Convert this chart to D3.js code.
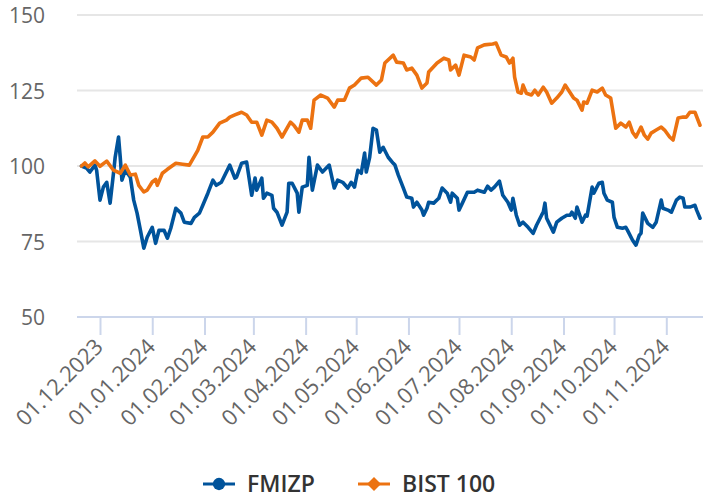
<!DOCTYPE html>
<html>
<head>
<meta charset="utf-8">
<script src="https://cdn.jsdelivr.net/npm/d3@7"></script>
<style>
  body { margin: 0; background: #fff; }
  svg { display: block; font-family: "Open Sans", sans-serif; }
</style>
</head>
<body>
<div id="chart"></div>
<script>
//size
const width = 703;
const height = 499;

//series names
const seriesNames = ["FMIZP", "BIST 100"];

//y axis ticks
const yTicks = [50, 75, 100, 125, 150];

//x axis tick dates (first of each month)
const xTickDates = [
  "2023-12-01", "2024-01-01", "2024-02-01", "2024-03-01", "2024-04-01", "2024-05-01",
  "2024-06-01", "2024-07-01", "2024-08-01", "2024-09-01", "2024-10-01", "2024-11-01",
];

//FMIZP, indexed to 100
const fmizp = [
  ["2023-11-20", 100], ["2023-11-23", 99.3], ["2023-11-25", 98.0], ["2023-11-28", 100.3],
  ["2023-11-29", 98.6], ["2023-12-01", 88.7], ["2023-12-03", 93.0], ["2023-12-05", 94.6],
  ["2023-12-07", 87.7], ["2023-12-09", 97.6], ["2023-12-10", 102.9], ["2023-12-12", 109.6],
  ["2023-12-13", 102.9], ["2023-12-14", 95.3], ["2023-12-16", 98.6], ["2023-12-19", 96.3],
  ["2023-12-21", 88.7], ["2023-12-23", 84.4], ["2023-12-25", 78.7], ["2023-12-27", 72.8],
  ["2023-12-29", 76.4], ["2024-01-01", 79.7], ["2024-01-03", 74.4], ["2024-01-05", 78.7],
  ["2024-01-08", 78.7], ["2024-01-10", 76.1], ["2024-01-12", 79.4], ["2024-01-15", 86.0],
  ["2024-01-18", 84.4], ["2024-01-20", 81.4], ["2024-01-24", 81.0], ["2024-01-26", 83.0],
  ["2024-01-29", 84.4], ["2024-01-31", 87.0], ["2024-02-03", 91.0], ["2024-02-06", 95.3],
  ["2024-02-08", 93.6], ["2024-02-11", 94.6], ["2024-02-16", 100.3], ["2024-02-19", 96.0],
  ["2024-02-20", 96.3], ["2024-02-23", 100.9], ["2024-02-26", 101.3], ["2024-02-29", 90.3],
  ["2024-03-02", 96.0], ["2024-03-03", 92.0], ["2024-03-06", 96.0], ["2024-03-07", 89.3],
  ["2024-03-09", 91.0], ["2024-03-12", 90.3], ["2024-03-13", 86.0], ["2024-03-15", 84.7],
  ["2024-03-18", 80.4], ["2024-03-21", 84.7], ["2024-03-22", 94.3], ["2024-03-24", 94.3],
  ["2024-03-27", 91.0], ["2024-03-28", 84.7], ["2024-03-30", 93.0], ["2024-04-02", 93.6],
  ["2024-04-03", 102.9], ["2024-04-05", 92.0], ["2024-04-08", 100.3], ["2024-04-11", 98.0],
  ["2024-04-15", 100.3], ["2024-04-18", 92.7], ["2024-04-20", 95.3], ["2024-04-23", 94.6],
  ["2024-04-26", 92.7], ["2024-04-28", 94.6], ["2024-04-30", 93.0], ["2024-05-02", 98.6],
  ["2024-05-04", 97.6], ["2024-05-06", 104.3], ["2024-05-07", 98.0], ["2024-05-09", 102.9],
  ["2024-05-11", 112.5], ["2024-05-13", 111.9], ["2024-05-15", 104.6], ["2024-05-17", 106.2],
  ["2024-05-20", 102.9], ["2024-05-23", 100.9], ["2024-05-24", 100.3], ["2024-05-26", 97.0],
  ["2024-05-29", 92.7], ["2024-05-31", 89.7], ["2024-06-03", 89.3], ["2024-06-04", 86.4],
  ["2024-06-06", 88.0], ["2024-06-09", 85.4], ["2024-06-10", 83.7], ["2024-06-12", 86.0],
  ["2024-06-13", 88.0], ["2024-06-16", 87.7], ["2024-06-19", 89.3], ["2024-06-21", 92.7],
  ["2024-06-24", 91.0], ["2024-06-26", 88.0], ["2024-06-27", 91.0], ["2024-06-30", 89.3],
  ["2024-07-01", 85.4], ["2024-07-03", 87.7], ["2024-07-06", 91.3], ["2024-07-10", 91.3],
  ["2024-07-12", 92.0], ["2024-07-16", 91.3], ["2024-07-18", 93.3], ["2024-07-20", 92.0],
  ["2024-07-22", 93.0], ["2024-07-25", 95.0], ["2024-07-27", 90.3], ["2024-07-30", 88.0],
  ["2024-08-01", 85.4], ["2024-08-02", 89.3], ["2024-08-04", 83.7], ["2024-08-06", 80.4],
  ["2024-08-08", 81.4], ["2024-08-11", 79.7], ["2024-08-14", 77.7], ["2024-08-16", 80.4],
  ["2024-08-19", 83.7], ["2024-08-20", 84.7], ["2024-08-21", 87.7], ["2024-08-22", 82.7],
  ["2024-08-26", 78.1], ["2024-08-28", 81.4], ["2024-08-31", 82.7], ["2024-09-03", 83.7],
  ["2024-09-05", 83.7], ["2024-09-06", 84.7], ["2024-09-08", 82.7], ["2024-09-09", 86.4],
  ["2024-09-12", 81.4], ["2024-09-14", 83.7], ["2024-09-15", 83.4], ["2024-09-18", 93.0],
  ["2024-09-19", 91.0], ["2024-09-22", 94.3], ["2024-09-24", 94.6], ["2024-09-25", 91.0],
  ["2024-09-27", 88.7], ["2024-09-30", 88.0], ["2024-10-01", 83.0], ["2024-10-03", 79.7],
  ["2024-10-06", 79.4], ["2024-10-08", 79.7], ["2024-10-09", 78.7], ["2024-10-12", 75.4],
  ["2024-10-14", 73.8], ["2024-10-16", 77.1], ["2024-10-17", 77.7], ["2024-10-18", 84.4],
  ["2024-10-21", 81.0], ["2024-10-24", 79.7], ["2024-10-26", 81.4], ["2024-10-29", 88.7],
  ["2024-10-30", 86.0], ["2024-11-02", 85.4], ["2024-11-04", 84.7], ["2024-11-07", 88.7],
  ["2024-11-09", 89.7], ["2024-11-11", 89.3], ["2024-11-12", 86.4], ["2024-11-15", 86.4],
  ["2024-11-18", 87.0], ["2024-11-19", 85.4], ["2024-11-21", 82.7],
];

//BIST 100, indexed to 100
const bist100 = [
  ["2023-11-20", 100], ["2023-11-22", 101.0], ["2023-11-24", 99.7], ["2023-11-28", 101.7],
  ["2023-12-01", 99.9], ["2023-12-05", 101.6], ["2023-12-09", 98.6], ["2023-12-13", 97.6],
  ["2023-12-16", 100.3], ["2023-12-19", 97.0], ["2023-12-22", 97.3], ["2023-12-24", 93.6],
  ["2023-12-27", 91.4], ["2023-12-29", 92.0], ["2024-01-01", 94.7], ["2024-01-03", 95.6],
  ["2024-01-04", 93.6], ["2024-01-07", 97.6], ["2024-01-10", 98.9], ["2024-01-15", 100.9],
  ["2024-01-19", 100.6], ["2024-01-23", 100.3], ["2024-01-28", 105.2], ["2024-01-31", 109.6],
  ["2024-02-03", 109.6], ["2024-02-06", 111.2], ["2024-02-10", 114.2], ["2024-02-14", 115.2],
  ["2024-02-16", 116.2], ["2024-02-19", 116.9], ["2024-02-23", 117.8], ["2024-02-26", 116.9],
  ["2024-02-29", 114.5], ["2024-03-03", 114.5], ["2024-03-06", 110.2], ["2024-03-09", 115.2],
  ["2024-03-12", 114.5], ["2024-03-15", 112.5], ["2024-03-18", 109.6], ["2024-03-23", 114.5],
  ["2024-03-25", 113.5], ["2024-03-28", 111.2], ["2024-03-30", 115.2], ["2024-04-02", 115.2],
  ["2024-04-04", 112.5], ["2024-04-06", 121.8], ["2024-04-10", 123.5], ["2024-04-14", 122.5],
  ["2024-04-18", 119.5], ["2024-04-20", 121.8], ["2024-04-24", 121.8], ["2024-04-27", 125.8],
  ["2024-04-30", 126.8], ["2024-05-04", 129.1], ["2024-05-08", 129.4], ["2024-05-13", 126.8],
  ["2024-05-16", 128.5], ["2024-05-18", 134.1], ["2024-05-23", 136.7], ["2024-05-25", 134.4],
  ["2024-05-29", 134.1], ["2024-05-31", 131.8], ["2024-06-03", 132.4], ["2024-06-06", 130.1],
  ["2024-06-09", 125.8], ["2024-06-12", 127.5], ["2024-06-13", 131.1], ["2024-06-18", 134.1],
  ["2024-06-22", 135.7], ["2024-06-25", 135.1], ["2024-06-26", 131.8], ["2024-06-29", 133.4],
  ["2024-07-01", 130.1], ["2024-07-04", 136.7], ["2024-07-08", 136.1], ["2024-07-10", 135.1],
  ["2024-07-12", 139.1], ["2024-07-16", 140.1], ["2024-07-21", 140.4], ["2024-07-23", 140.7],
  ["2024-07-26", 136.7], ["2024-07-29", 136.1], ["2024-07-31", 134.1], ["2024-08-02", 135.7],
  ["2024-08-03", 129.4], ["2024-08-05", 124.5], ["2024-08-07", 124.1], ["2024-08-08", 126.8],
  ["2024-08-10", 124.1], ["2024-08-13", 123.5], ["2024-08-15", 125.1], ["2024-08-17", 123.5],
  ["2024-08-20", 126.1], ["2024-08-22", 124.5], ["2024-08-25", 120.8], ["2024-08-28", 122.5],
  ["2024-08-31", 124.5], ["2024-09-02", 126.8], ["2024-09-04", 125.1], ["2024-09-07", 122.5],
  ["2024-09-09", 121.8], ["2024-09-12", 118.5], ["2024-09-13", 121.2], ["2024-09-15", 120.8],
  ["2024-09-18", 125.1], ["2024-09-21", 124.5], ["2024-09-24", 125.8], ["2024-09-26", 123.5],
  ["2024-09-29", 122.5], ["2024-10-02", 112.5], ["2024-10-05", 114.2], ["2024-10-08", 112.9],
  ["2024-10-10", 114.5], ["2024-10-12", 111.2], ["2024-10-14", 109.6], ["2024-10-17", 112.9],
  ["2024-10-19", 110.2], ["2024-10-21", 108.9], ["2024-10-23", 110.9], ["2024-10-26", 111.9],
  ["2024-10-29", 112.9], ["2024-10-31", 111.9], ["2024-11-03", 109.6], ["2024-11-05", 108.6],
  ["2024-11-08", 115.9], ["2024-11-11", 116.2], ["2024-11-13", 116.2], ["2024-11-15", 117.8],
  ["2024-11-18", 117.8], ["2024-11-21", 113.5],
];

//series style
const seriesColor = { FMIZP: "#00539b", "BIST 100": "#ec7211" };

//plot area
const plot = { left: 77, right: 703, top: 15, bottom: 317 };

const parseDate = d3.utcParse("%Y-%m-%d");
const formatDate = d3.utcFormat("%d.%m.%Y");

//x scale: month ticks sit at fixed places, the plot runs a bit past both ends
const x = d3
  .scaleUtc()
  .domain([parseDate("2023-12-01"), parseDate("2024-11-01")])
  .range([100, 666.3]);

const y = d3.scaleLinear().domain([50, 150]).range([plot.bottom, plot.top]);

const svg = d3
  .select("#chart")
  .append("svg")
  .attr("width", width)
  .attr("height", height);

//grid lines
svg
  .append("g")
  .selectAll("line")
  .data(yTicks.filter((t) => t > 50))
  .enter()
  .append("line")
  .attr("x1", plot.left)
  .attr("x2", plot.right)
  .attr("y1", (d) => y(d))
  .attr("y2", (d) => y(d))
  .attr("stroke", "#e6e6e6")
  .attr("stroke-width", 2);

//y axis labels
svg
  .append("g")
  .selectAll("text")
  .data(yTicks)
  .enter()
  .append("text")
  .attr("x", 45)
  .attr("y", (d) => y(d) + 8)
  .attr("text-anchor", "end")
  .attr("font-size", "21px")
  .attr("fill", "#666666")
  .text((d) => d);

//x axis
const xAxis = d3
  .axisBottom(x)
  .tickValues(xTickDates.map(parseDate))
  .tickSize(18)
  .tickFormat(formatDate);

const gx = svg
  .append("g")
  .attr("transform", `translate(0,${plot.bottom})`)
  .call(xAxis);

gx.select(".domain").remove();
gx.selectAll(".tick line").attr("stroke", "#ccd6eb").attr("stroke-width", 2);
gx.append("line")
  .attr("x1", plot.left)
  .attr("x2", plot.right)
  .attr("stroke", "#ccd6eb")
  .attr("stroke-width", 2);

gx.selectAll(".tick text")
  .attr("font-family", "Open Sans, sans-serif")
  .attr("font-size", "22px")
  .attr("fill", "#666666")
  .attr("text-anchor", "end")
  .attr("dy", null)
  .attr("y", null)
  .attr("transform", "translate(4,31) rotate(-45)");

//clip to the plot
svg
  .append("clipPath")
  .attr("id", "clip")
  .append("rect")
  .attr("x", plot.left)
  .attr("y", 0)
  .attr("width", plot.right - plot.left)
  .attr("height", plot.bottom);

const line = d3
  .line()
  .x((d) => x(parseDate(d[0])))
  .y((d) => y(d[1]));

const gLines = svg.append("g").attr("clip-path", "url(#clip)");

[
  { name: "FMIZP", data: fmizp },
  { name: "BIST 100", data: bist100 },
].forEach((s) => {
  gLines
    .append("path")
    .attr("d", line(s.data))
    .attr("fill", "none")
    .attr("stroke", seriesColor[s.name])
    .attr("stroke-width", 3.6)
    .attr("stroke-linejoin", "round")
    .attr("stroke-linecap", "round");
});

//legend
const legendItems = [
  { name: seriesNames[0], x: 203, symbol: "circle" },
  { name: seriesNames[1], x: 358, symbol: "diamond" },
];

const gLegend = svg.append("g").attr("transform", "translate(0,484)");

const item = gLegend
  .selectAll("g")
  .data(legendItems)
  .enter()
  .append("g")
  .attr("transform", (d) => `translate(${d.x},0)`);

item
  .append("line")
  .attr("x1", 0)
  .attr("x2", 32)
  .attr("stroke", (d) => seriesColor[d.name])
  .attr("stroke-width", 3);

item
  .append("path")
  .attr("transform", "translate(16,0)")
  .attr("d", (d) =>
    d.symbol === "circle"
      ? d3.symbol(d3.symbolCircle, 120)()
      : "M0,-7L7,0L0,7L-7,0Z"
  )
  .attr("fill", (d) => seriesColor[d.name]);

item
  .append("text")
  .attr("x", 44)
  .attr("y", 8)
  .attr("font-size", "23px")
  .attr("font-weight", 600)
  .attr("fill", "#333333")
  .text((d) => d.name);
</script>
</body>
</html>
